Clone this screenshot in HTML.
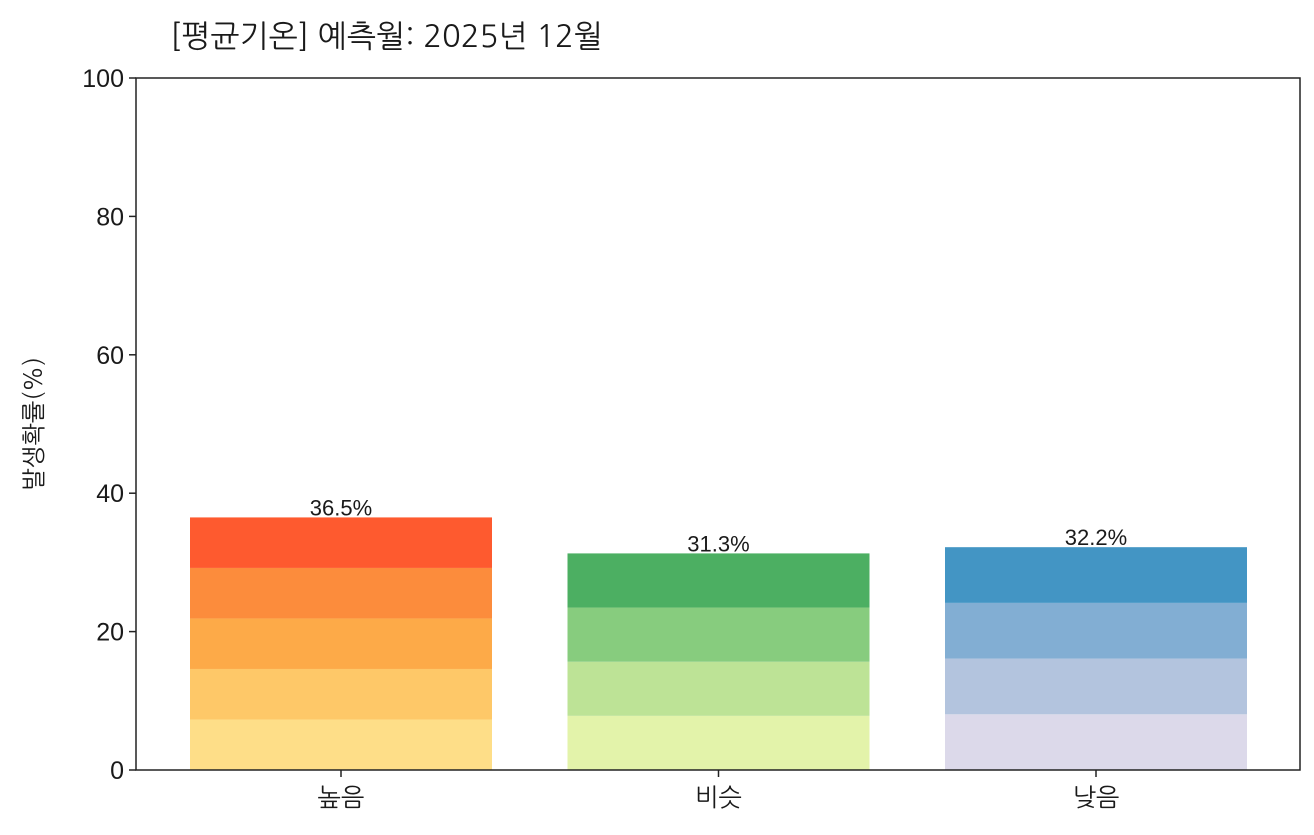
<!DOCTYPE html>
<html><head><meta charset="utf-8"><style>
body{margin:0;background:#fff;}
svg text{font-family:"Liberation Sans","NanumGothic","Noto Sans CJK KR",sans-serif;fill:#1a1a1a;}
</style></head><body>
<svg id="chart" width="1314" height="830" xmlns="http://www.w3.org/2000/svg">
<text x="170" y="47" font-size="31" style="font-family:'NanumGothic','Noto Sans CJK KR',sans-serif">[평균기온] 예측월: 2025년 12월</text>
<text transform="translate(42,424) rotate(-90)" text-anchor="middle" font-size="24" style="font-family:'NanumGothic','Noto Sans CJK KR',sans-serif">발생확률(%)</text>
<g id="bars"></g>
<g id="axes"></g>
</svg>
<script>
const categories = ["높음","비슷","낮음"];
const values = [36.5, 31.3, 32.2];
const segmentCounts = [5, 4, 4];
const yTicks = [0,20,40,60,80,100];
const palettes = [
 ["#fede88","#fec868","#fdaa48","#fc8c3c","#fe5a2f"],
 ["#e3f3aa","#bde396","#87cc7e","#4caf62"],
 ["#dcd9ea","#b3c4de","#82aed3","#4395c4"]
];
const L=136,R=1300,T=78,B=770;
const y=v=>B-(v/100)*(B-T);
const step=377.5, bw=302;
const xc=i=>341+i*step;
const NS="http://www.w3.org/2000/svg";
const bars=document.getElementById('bars'), axes=document.getElementById('axes');
function mk(tag,attrs,parent){const e=document.createElementNS(NS,tag);for(const k in attrs)e.setAttribute(k,attrs[k]);parent.appendChild(e);return e;}
categories.forEach((c,i)=>{
  const n=segmentCounts[i], seg=values[i]/n;
  for(let s=0;s<n;s++){
    const r=mk('rect',{x:xc(i)-bw/2,y:y(seg*(s+1)),width:bw,height:y(seg*s)-y(seg*(s+1)),fill:palettes[i][s]},bars);
    
    
  }
  const t=mk('text',{x:xc(i),y:y(values[i])-2,'text-anchor':'middle','font-size':22},bars);
  t.textContent=values[i].toFixed(1)+'%';
  
  
  const tk=mk('line',{x1:xc(i),x2:xc(i),y1:B,y2:B+7,stroke:'#222','stroke-width':1.5},axes);
  
  
  const xl=mk('text',{x:xc(i),y:B+36,'text-anchor':'middle','font-size':25,style:"font-family:'NanumGothic','Noto Sans CJK KR',sans-serif"},axes);
  xl.textContent=c;
  
  
});
yTicks.forEach(v=>{
  const tk=mk('line',{x1:L-7,x2:L,y1:y(v),y2:y(v),stroke:'#222','stroke-width':1.5},axes);
  
  
  const tl=mk('text',{x:L-12,y:y(v)+9,'text-anchor':'end','font-size':25},axes);
  tl.textContent=v;
  
  
});
const fr=mk('rect',{x:L,y:T,width:R-L,height:B-T,fill:'none',stroke:'#222','stroke-width':1.5},axes);


</script>
</body></html>
